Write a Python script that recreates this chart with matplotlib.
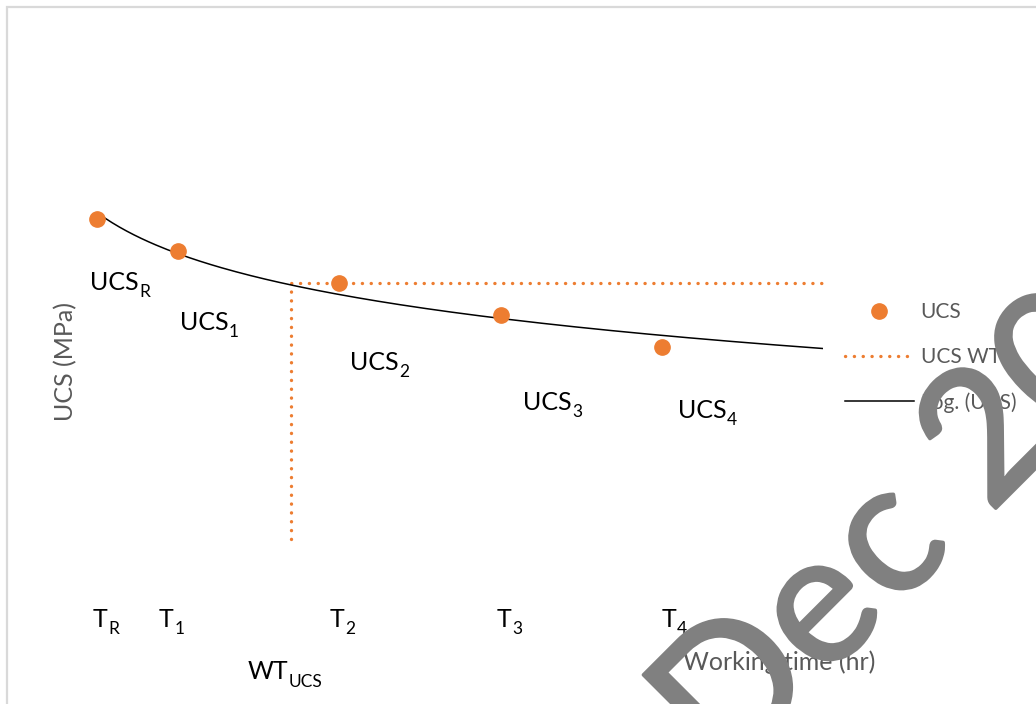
import numpy as np
import matplotlib
matplotlib.use("Agg")
import matplotlib.pyplot as plt
import matplotlib.patheffects as pe
from matplotlib.patches import Rectangle

plt.rcParams['font.family'] = ['Lato', 'DejaVu Sans']

# Measured points: working time (hr) and UCS (MPa)
time_hr = [0.5, 1.0, 2.0, 3.0, 4.0]
ucs_mpa = [6.4, 5.8, 5.2, 4.6, 4.0]

# Working time limit line (vertical drop at WT_UCS, then flat at UCS_2)
wtl_x = [1.7, 1.7, 5.0]
wtl_y = [0.4, 5.2, 5.2]

# Point labels and the time labels under the plot (text, subscript)
ucs_subs = ['R', '1', '2', '3', '4']
ucs_label_x = [0.454, 1.012, 2.066, 3.138, 4.099]
ucs_label_y = [5.07, 4.32, 3.57, 2.82, 2.67]
t_subs = ['R', '1', '2', '3', '4']
t_label_x = [0.472, 0.882, 1.942, 2.977, 3.999]

# date stamp, set letter by letter (advance widths in em)
stamp_chars = list('Dec 2023')
stamp_adv = [0.615, 0.498, 0.423, 0.226, 0.507, 0.507, 0.507, 0.507]

ORANGE = '#ED7D31'
GREY = '#595959'
W, H = 1036, 704

fig = plt.figure(figsize=(W / 100, H / 100), dpi=100)
ax = fig.add_axes([16.8 / W, (H - 560.3) / H, 5 * 161.3 / W, 10 * 53.33 / H])
ax.set_xlim(0, 5)
ax.set_ylim(0, 10)
ax.axis('off')
renderer = fig.canvas.get_renderer()


def sub_label(x, y, main, sub):
    t = ax.text(x, y, main, fontsize=18, ha='left', va='baseline', color='black')
    w = t.get_window_extent(renderer).width * 72 / fig.dpi
    ax.annotate(sub, xy=(x, y), xytext=(w + 0.3, -5.4), textcoords='offset points',
                fontsize=12.5, ha='left', va='baseline', color='black',
                annotation_clip=False)


# logarithmic trend line, fitted like Excel's Log. trendline
b, a = np.polyfit(np.log(time_hr), ucs_mpa, 1)
xt = np.linspace(0.5, 5.0, 200)
trend, = ax.plot(xt, a + b * np.log(xt), color='black', lw=1.1, zorder=3)

wtl, = ax.plot(wtl_x, wtl_y, color=ORANGE, lw=2.4, linestyle=(0, (0.05, 2.6)),
               dash_capstyle='round', zorder=2, clip_on=False)
pts, = ax.plot(time_hr, ucs_mpa, 'o', color=ORANGE, markersize=11, zorder=4, linestyle='none')

for s, x, y in zip(ucs_subs, ucs_label_x, ucs_label_y):
    sub_label(x, y, 'UCS', s)
for s, x in zip(t_subs, t_label_x):
    sub_label(x, -1.25, 'T', s)
sub_label(1.433, -2.226, 'WT', 'UCS')

ax.text(4.130, -2.057, 'Working time (hr)', fontsize=18, ha='left', va='baseline', color=GREY)
ax.text(0.348, 3.72, 'UCS (MPa)', fontsize=18, rotation=90, rotation_mode='anchor',
        ha='center', va='baseline', color=GREY)

leg = fig.legend([pts, wtl, trend], ['UCS', 'UCS WTL', 'Log. (UCS)'],
                 loc='upper left', bbox_to_anchor=(845 / W, 1 - 302 / H),
                 frameon=False, fontsize=15, handlelength=3.3, handletextpad=0.33,
                 labelspacing=1.2, borderpad=0, borderaxespad=0)
for t in leg.get_texts():
    t.set_color(GREY)

# chart area border
fig.patches.append(Rectangle((7 / W, -0.1), 1.1, 1.1 - 7 / H, transform=fig.transFigure,
                             fill=False, edgecolor='#d9d9d9', lw=1.6, zorder=0))

# diagonal stamp across the lower right
em = 210
ang = np.deg2rad(45)
x0, y0 = 728, H - 776
pos = 0.0
for ch, adv in zip(stamp_chars, stamp_adv):
    c = pos + adv / 2
    if ch != ' ':
        fig.text((x0 + c * em * np.cos(ang)) / W, (y0 + c * em * np.sin(ang)) / H, ch,
                 fontsize=132, family='Lato', color='#808080', rotation=45,
                 rotation_mode='anchor', ha='center', va='baseline', zorder=10,
                 path_effects=[pe.withStroke(linewidth=2.5, foreground='#808080')])
    pos += adv

fig.savefig('out.png', dpi=100)
